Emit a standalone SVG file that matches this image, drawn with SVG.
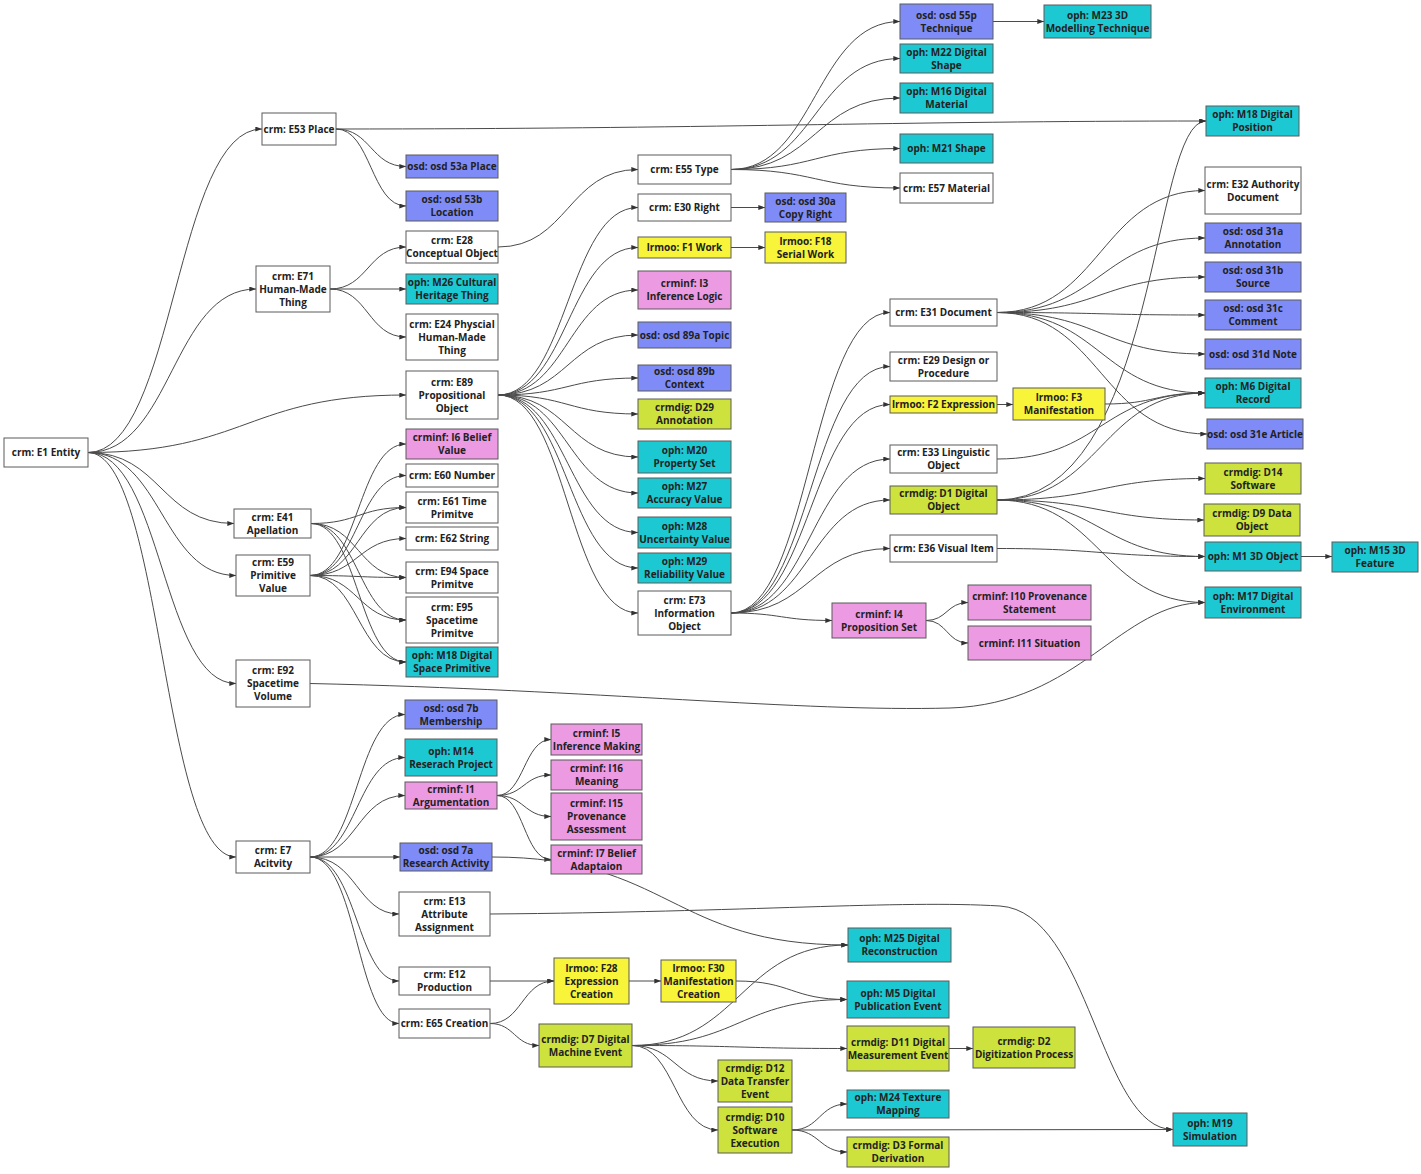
<svg xmlns="http://www.w3.org/2000/svg" width="1421" height="1174" viewBox="0 0 1421 1174">
<defs>
<marker id="a" viewBox="0 0 8 6" refX="8" refY="3" markerWidth="7" markerHeight="5" markerUnits="userSpaceOnUse" orient="auto"><path d="M0,0 L8,3 L0,6 z" fill="#333"/></marker>
<style>
rect{stroke:#5a5a5a;stroke-width:1}
.w{fill:#ffffff}.b{fill:#7f8cf7}.c{fill:#1cc9d3}.y{fill:#f7f43a}.p{fill:#ec9ae2}.g{fill:#cde23c}
text{font-family:"Open Sans","Noto Sans","DejaVu Sans",sans-serif;font-size:10px;font-weight:700;fill:#222;text-anchor:middle}
#edges path{fill:none;stroke:#4a4a4a;stroke-width:1;marker-end:url(#a)}
</style>
</defs>
<rect x="0" y="0" width="1421" height="1174" style="fill:#fff;stroke:none"/>
<g id="edges">
<path d="M88,452.5 C175,452.5 175,129 262,129"/>
<path d="M88,452.5 C172,452.5 172,289 256,289"/>
<path d="M88,452.5 C247,452.5 247,395 406,395"/>
<path d="M88,452.5 C161,452.5 161,523.5 234,523.5"/>
<path d="M88,452.5 C162,452.5 162,575.5 236,575.5"/>
<path d="M88,452.5 C162,452.5 162,683.5 236,683.5"/>
<path d="M88,452.5 C162,452.5 162,857 236,857"/>
<path d="M336,129 C371,129 371,166.5 406,166.5"/>
<path d="M336,129 C371,129 371,206 406,206"/>
<path d="M336,129 C700,129 900,121 1206,121"/>
<path d="M330,289 C368,289 368,247 406,247"/>
<path d="M330,289 L406,289"/>
<path d="M330,289 C368,289 368,337 406,337"/>
<path d="M498,247 C568,247 568,169.5 638,169.5"/>
<path d="M731,169.5 C815.5,169.5 815.5,21.5 900,21.5"/>
<path d="M731,169.5 C815.5,169.5 815.5,58.5 900,58.5"/>
<path d="M731,169.5 C815.5,169.5 815.5,98 900,98"/>
<path d="M731,169.5 C815.5,169.5 815.5,148.5 900,148.5"/>
<path d="M731,169.5 C815.5,169.5 815.5,188 900,188"/>
<path d="M993,21.5 L1044,21.5"/>
<path d="M498,395 C568,395 568,207.5 638,207.5"/>
<path d="M498,395 C568,395 568,247.5 638,247.5"/>
<path d="M498,395 C568,395 568,290 638,290"/>
<path d="M498,395 C568,395 568,335 638,335"/>
<path d="M498,395 C568,395 568,378 638,378"/>
<path d="M498,395 C568,395 568,414 638,414"/>
<path d="M498,395 C568,395 568,457 638,457"/>
<path d="M498,395 C568,395 568,493 638,493"/>
<path d="M498,395 C568,395 568,532.5 638,532.5"/>
<path d="M498,395 C568,395 568,568 638,568"/>
<path d="M498,395 C568,395 568,613 638,613"/>
<path d="M731,207.5 L765,207.5"/>
<path d="M731,247.5 L765,247.5"/>
<path d="M311,523.5 C358.5,523.5 358.5,507.5 406,507.5"/>
<path d="M311,523.5 C358.5,523.5 358.5,577.5 406,577.5"/>
<path d="M311,523.5 C358.5,523.5 358.5,620 406,620"/>
<path d="M311,523.5 C358.5,523.5 358.5,662 406,662"/>
<path d="M310,575.5 C358,575.5 358,444 406,444"/>
<path d="M310,575.5 C358,575.5 358,475.5 406,475.5"/>
<path d="M310,575.5 C358,575.5 358,507.5 406,507.5"/>
<path d="M310,575.5 C358,575.5 358,538.5 406,538.5"/>
<path d="M310,575.5 C358,575.5 358,577.5 406,577.5"/>
<path d="M310,575.5 C358,575.5 358,620 406,620"/>
<path d="M310,575.5 C358,575.5 358,662 406,662"/>
<path d="M310,683.5 C600,690 800,712 950,708 C1080,704 1120,602.5 1205,602.5"/>
<path d="M310,857 C357,857 357,714.5 405,714.5"/>
<path d="M310,857 C357,857 357,757.5 405,757.5"/>
<path d="M310,857 C357,857 357,795.5 405,795.5"/>
<path d="M310,857 L400,857"/>
<path d="M310,857 C357,857 357,914 399,914"/>
<path d="M310,857 C357,857 357,981 399,981"/>
<path d="M310,857 C357,857 357,1023.5 399,1023.5"/>
<path d="M497,795.5 C524,795.5 524,739.5 551,739.5"/>
<path d="M497,795.5 C524,795.5 524,775 551,775"/>
<path d="M497,795.5 C524,795.5 524,816.5 551,816.5"/>
<path d="M497,795.5 C524,795.5 524,859.5 551,859.5"/>
<path d="M492,857 C670,857 670,945 848,945"/>
<path d="M490,914 C750,912 900,900 1000,906 C1090,912 1100,1129.5 1173,1129.5"/>
<path d="M490,981 L554,981"/>
<path d="M490,1023.5 C522,1023.5 522,981 554,981"/>
<path d="M490,1023.5 C514.5,1023.5 514.5,1045.5 539,1045.5"/>
<path d="M629,981 L661,981"/>
<path d="M736,981 C791.5,981 791.5,999.5 847,999.5"/>
<path d="M632,1045.5 C740,1045.5 740,945 848,945"/>
<path d="M632,1045.5 C740,1045.5 740,999.5 847,999.5"/>
<path d="M632,1045.5 C740,1045.5 740,1048.5 847,1048.5"/>
<path d="M632,1045.5 C675,1045.5 675,1081 718,1081"/>
<path d="M632,1045.5 C675,1045.5 675,1130 718,1130"/>
<path d="M949,1048.5 L973,1048.5"/>
<path d="M792,1130 C819.5,1130 819.5,1104 847,1104"/>
<path d="M792,1130 L1173,1129.5"/>
<path d="M792,1130 C819.5,1130 819.5,1152 847,1152"/>
<path d="M731,613 C810.5,613 810.5,312.5 890,312.5"/>
<path d="M731,613 C810.5,613 810.5,366.5 890,366.5"/>
<path d="M731,613 C810.5,613 810.5,404.5 890,404.5"/>
<path d="M731,613 C810.5,613 810.5,459 890,459"/>
<path d="M731,613 C810.5,613 810.5,500 890,500"/>
<path d="M731,613 C810.5,613 810.5,548.5 890,548.5"/>
<path d="M731,613 C781.5,613 781.5,620.5 832,620.5"/>
<path d="M926,620.5 C947,620.5 947,602.5 968,602.5"/>
<path d="M926,620.5 C947,620.5 947,643 968,643"/>
<path d="M997,404.5 L1013,404.5"/>
<path d="M1105,404 C1155,404 1155,393 1205,393"/>
<path d="M997,312.5 C1101,312.5 1101,190.5 1205,190.5"/>
<path d="M997,312.5 C1101,312.5 1101,238 1205,238"/>
<path d="M997,312.5 C1101,312.5 1101,277 1205,277"/>
<path d="M997,312.5 C1101,312.5 1101,315 1205,315"/>
<path d="M997,312.5 C1101,312.5 1101,354 1205,354"/>
<path d="M997,312.5 C1101,312.5 1101,393 1205,393"/>
<path d="M997,312.5 C1101,312.5 1101,434 1207,434"/>
<path d="M997,459 C1101,459 1101,393 1205,393"/>
<path d="M997,500 C1160,500 1150,121 1206,121"/>
<path d="M997,500 C1101,500 1101,393 1205,393"/>
<path d="M997,500 C1101,500 1101,478.5 1205,478.5"/>
<path d="M997,500 C1101,500 1101,520 1204,520"/>
<path d="M997,500 C1101,500 1101,556.5 1205,556.5"/>
<path d="M997,500 C1101,500 1101,602.5 1205,602.5"/>
<path d="M997,548.5 C1101,548.5 1101,556.5 1205,556.5"/>
<path d="M1301,556.5 L1332,556.5"/>
</g>
<g id="e1"><rect class="w" x="4" y="438" width="84" height="29"/><text x="46" y="456">crm: E1 Entity</text></g>
<g id="e53"><rect class="w" x="262" y="113" width="74" height="32"/><text x="299" y="132.5">crm: E53 Place</text></g>
<g id="o53a"><rect class="b" x="406" y="155" width="92" height="23"/><text x="452" y="170">osd: osd 53a Place</text></g>
<g id="o53b"><rect class="b" x="406" y="191" width="92" height="30"/><text><tspan x="452" y="203">osd: osd 53b</tspan><tspan x="452" y="216">Location</tspan></text></g>
<g id="e28"><rect class="w" x="406" y="231" width="92" height="32"/><text><tspan x="452" y="244">crm: E28</tspan><tspan x="452" y="257">Conceptual Object</tspan></text></g>
<g id="e71"><rect class="w" x="256" y="266" width="74" height="46"/><text><tspan x="293" y="279.5">crm: E71</tspan><tspan x="293" y="292.5">Human-Made</tspan><tspan x="293" y="305.5">Thing</tspan></text></g>
<g id="m26"><rect class="c" x="406" y="274" width="92" height="30"/><text><tspan x="452" y="286">oph: M26 Cultural</tspan><tspan x="452" y="299">Heritage Thing</tspan></text></g>
<g id="e24"><rect class="w" x="406" y="314" width="92" height="46"/><text><tspan x="452" y="327.5">crm: E24 Physcial</tspan><tspan x="452" y="340.5">Human-Made</tspan><tspan x="452" y="353.5">Thing</tspan></text></g>
<g id="e89"><rect class="w" x="406" y="371" width="92" height="48"/><text><tspan x="452" y="385.5">crm: E89</tspan><tspan x="452" y="398.5">Propositional</tspan><tspan x="452" y="411.5">Object</tspan></text></g>
<g id="i6"><rect class="p" x="406" y="429" width="92" height="30"/><text><tspan x="452" y="441">crminf: I6 Belief</tspan><tspan x="452" y="454">Value</tspan></text></g>
<g id="e60"><rect class="w" x="406" y="464" width="92" height="23"/><text x="452" y="479">crm: E60 Number</text></g>
<g id="e61"><rect class="w" x="406" y="492" width="92" height="31"/><text><tspan x="452" y="504.5">crm: E61 Time</tspan><tspan x="452" y="517.5">Primitve</tspan></text></g>
<g id="e62"><rect class="w" x="406" y="527" width="92" height="23"/><text x="452" y="542">crm: E62 String</text></g>
<g id="e94"><rect class="w" x="406" y="562" width="92" height="31"/><text><tspan x="452" y="574.5">crm: E94 Space</tspan><tspan x="452" y="587.5">Primitve</tspan></text></g>
<g id="e95"><rect class="w" x="406" y="597" width="92" height="46"/><text><tspan x="452" y="610.5">crm: E95</tspan><tspan x="452" y="623.5">Spacetime</tspan><tspan x="452" y="636.5">Primitve</tspan></text></g>
<g id="m18s"><rect class="c" x="406" y="647" width="92" height="30"/><text><tspan x="452" y="659">oph: M18 Digital</tspan><tspan x="452" y="672">Space Primitive</tspan></text></g>
<g id="e41"><rect class="w" x="234" y="509" width="77" height="29"/><text><tspan x="272.5" y="520.5">crm: E41</tspan><tspan x="272.5" y="533.5">Apellation</tspan></text></g>
<g id="e59"><rect class="w" x="236" y="555" width="74" height="41"/><text><tspan x="273" y="566">crm: E59</tspan><tspan x="273" y="579">Primitive</tspan><tspan x="273" y="592">Value</tspan></text></g>
<g id="e92"><rect class="w" x="236" y="660" width="74" height="47"/><text><tspan x="273" y="674">crm: E92</tspan><tspan x="273" y="687">Spacetime</tspan><tspan x="273" y="700">Volume</tspan></text></g>
<g id="o7b"><rect class="b" x="405" y="700" width="92" height="29"/><text><tspan x="451" y="711.5">osd: osd 7b</tspan><tspan x="451" y="724.5">Membership</tspan></text></g>
<g id="m14"><rect class="c" x="405" y="739" width="92" height="37"/><text><tspan x="451" y="754.5">oph: M14</tspan><tspan x="451" y="767.5">Reserach Project</tspan></text></g>
<g id="i1"><rect class="p" x="405" y="782" width="92" height="27"/><text><tspan x="451" y="792.5">crminf: I1</tspan><tspan x="451" y="805.5">Argumentation</tspan></text></g>
<g id="o7a"><rect class="b" x="400" y="843" width="92" height="28"/><text><tspan x="446" y="854">osd: osd 7a</tspan><tspan x="446" y="867">Research Activity</tspan></text></g>
<g id="e7"><rect class="w" x="236" y="841" width="74" height="32"/><text><tspan x="273" y="854">crm: E7</tspan><tspan x="273" y="867">Acitvity</tspan></text></g>
<g id="e13"><rect class="w" x="399" y="892" width="91" height="44"/><text><tspan x="444.5" y="904.5">crm: E13</tspan><tspan x="444.5" y="917.5">Attribute</tspan><tspan x="444.5" y="930.5">Assignment</tspan></text></g>
<g id="e12"><rect class="w" x="399" y="967" width="91" height="28"/><text><tspan x="444.5" y="978">crm: E12</tspan><tspan x="444.5" y="991">Production</tspan></text></g>
<g id="e65"><rect class="w" x="399" y="1009" width="91" height="29"/><text x="444.5" y="1027">crm: E65 Creation</text></g>
<g id="i5"><rect class="p" x="551" y="724" width="91" height="31"/><text><tspan x="596.5" y="736.5">crminf: I5</tspan><tspan x="596.5" y="749.5">Inference Making</tspan></text></g>
<g id="i16"><rect class="p" x="551" y="760" width="91" height="30"/><text><tspan x="596.5" y="772">crminf: I16</tspan><tspan x="596.5" y="785">Meaning</tspan></text></g>
<g id="i15"><rect class="p" x="551" y="793" width="91" height="47"/><text><tspan x="596.5" y="807">crminf: I15</tspan><tspan x="596.5" y="820">Provenance</tspan><tspan x="596.5" y="833">Assessment</tspan></text></g>
<g id="i7"><rect class="p" x="551" y="845" width="91" height="29"/><text><tspan x="596.5" y="856.5">crminf: I7 Belief</tspan><tspan x="596.5" y="869.5">Adaptaion</tspan></text></g>
<g id="f28"><rect class="y" x="554" y="958" width="75" height="46"/><text><tspan x="591.5" y="971.5">lrmoo: F28</tspan><tspan x="591.5" y="984.5">Expression</tspan><tspan x="591.5" y="997.5">Creation</tspan></text></g>
<g id="f30"><rect class="y" x="661" y="960" width="75" height="42"/><text><tspan x="698.5" y="971.5">lrmoo: F30</tspan><tspan x="698.5" y="984.5">Manifestation</tspan><tspan x="698.5" y="997.5">Creation</tspan></text></g>
<g id="d7"><rect class="g" x="539" y="1024" width="93" height="43"/><text><tspan x="585.5" y="1042.5">crmdig: D7 Digital</tspan><tspan x="585.5" y="1055.5">Machine Event</tspan></text></g>
<g id="m25"><rect class="c" x="848" y="928" width="103" height="34"/><text><tspan x="899.5" y="942">oph: M25 Digital</tspan><tspan x="899.5" y="955">Reconstruction</tspan></text></g>
<g id="m5"><rect class="c" x="847" y="981" width="102" height="37"/><text><tspan x="898" y="996.5">oph: M5 Digital</tspan><tspan x="898" y="1009.5">Publication Event</tspan></text></g>
<g id="d11"><rect class="g" x="847" y="1026" width="102" height="45"/><text><tspan x="898" y="1045.5">crmdig: D11 Digital</tspan><tspan x="898" y="1058.5">Measurement Event</tspan></text></g>
<g id="d2"><rect class="g" x="973" y="1027" width="102" height="41"/><text><tspan x="1024" y="1044.5">crmdig: D2</tspan><tspan x="1024" y="1057.5">Digitization Process</tspan></text></g>
<g id="d12"><rect class="g" x="718" y="1060" width="74" height="42"/><text><tspan x="755" y="1071.5">crmdig: D12</tspan><tspan x="755" y="1084.5">Data Transfer</tspan><tspan x="755" y="1097.5">Event</tspan></text></g>
<g id="m24"><rect class="c" x="847" y="1090" width="102" height="28"/><text><tspan x="898" y="1101">oph: M24 Texture</tspan><tspan x="898" y="1114">Mapping</tspan></text></g>
<g id="d10"><rect class="g" x="718" y="1107" width="74" height="46"/><text><tspan x="755" y="1120.5">crmdig: D10</tspan><tspan x="755" y="1133.5">Software</tspan><tspan x="755" y="1146.5">Execution</tspan></text></g>
<g id="d3"><rect class="g" x="847" y="1137" width="102" height="30"/><text><tspan x="898" y="1149">crmdig: D3 Formal</tspan><tspan x="898" y="1162">Derivation</tspan></text></g>
<g id="m19"><rect class="c" x="1173" y="1113" width="74" height="33"/><text><tspan x="1210" y="1126.5">oph: M19</tspan><tspan x="1210" y="1139.5">Simulation</tspan></text></g>
<g id="e55"><rect class="w" x="638" y="155" width="93" height="29"/><text x="684.5" y="173">crm: E55 Type</text></g>
<g id="e30"><rect class="w" x="638" y="194" width="93" height="27"/><text x="684.5" y="211">crm: E30 Right</text></g>
<g id="o30a"><rect class="b" x="765" y="193" width="81" height="29"/><text><tspan x="805.5" y="204.5">osd: osd 30a</tspan><tspan x="805.5" y="217.5">Copy Right</tspan></text></g>
<g id="f1"><rect class="y" x="638" y="237" width="93" height="21"/><text x="684.5" y="251">lrmoo: F1 Work</text></g>
<g id="f18"><rect class="y" x="765" y="232" width="81" height="31"/><text><tspan x="805.5" y="244.5">lrmoo: F18</tspan><tspan x="805.5" y="257.5">Serial Work</tspan></text></g>
<g id="i3"><rect class="p" x="638" y="271" width="93" height="38"/><text><tspan x="684.5" y="287">crminf: I3</tspan><tspan x="684.5" y="300">Inference Logic</tspan></text></g>
<g id="o89a"><rect class="b" x="638" y="322" width="93" height="26"/><text x="684.5" y="338.5">osd: osd 89a Topic</text></g>
<g id="o89b"><rect class="b" x="638" y="365" width="93" height="26"/><text><tspan x="684.5" y="375">osd: osd 89b</tspan><tspan x="684.5" y="388">Context</tspan></text></g>
<g id="d29"><rect class="g" x="638" y="399" width="93" height="30"/><text><tspan x="684.5" y="411">crmdig: D29</tspan><tspan x="684.5" y="424">Annotation</tspan></text></g>
<g id="m20"><rect class="c" x="638" y="441" width="93" height="32"/><text><tspan x="684.5" y="454">oph: M20</tspan><tspan x="684.5" y="467">Property Set</tspan></text></g>
<g id="m27"><rect class="c" x="638" y="478" width="93" height="30"/><text><tspan x="684.5" y="490">oph: M27</tspan><tspan x="684.5" y="503">Accuracy Value</tspan></text></g>
<g id="m28"><rect class="c" x="638" y="517" width="93" height="31"/><text><tspan x="684.5" y="529.5">oph: M28</tspan><tspan x="684.5" y="542.5">Uncertainty Value</tspan></text></g>
<g id="m29"><rect class="c" x="638" y="553" width="93" height="30"/><text><tspan x="684.5" y="565">oph: M29</tspan><tspan x="684.5" y="578">Reliability Value</tspan></text></g>
<g id="e73"><rect class="w" x="638" y="591" width="93" height="44"/><text><tspan x="684.5" y="603.5">crm: E73</tspan><tspan x="684.5" y="616.5">Information</tspan><tspan x="684.5" y="629.5">Object</tspan></text></g>
<g id="o55p"><rect class="b" x="900" y="4" width="93" height="35"/><text><tspan x="946.5" y="18.5">osd: osd 55p</tspan><tspan x="946.5" y="31.5">Technique</tspan></text></g>
<g id="m23"><rect class="c" x="1044" y="5" width="107" height="33"/><text><tspan x="1097.5" y="18.5">oph: M23 3D</tspan><tspan x="1097.5" y="31.5">Modelling Technique</tspan></text></g>
<g id="m22"><rect class="c" x="900" y="44" width="93" height="29"/><text><tspan x="946.5" y="55.5">oph: M22 Digital</tspan><tspan x="946.5" y="68.5">Shape</tspan></text></g>
<g id="m16"><rect class="c" x="900" y="83" width="93" height="30"/><text><tspan x="946.5" y="95">oph: M16 Digital</tspan><tspan x="946.5" y="108">Material</tspan></text></g>
<g id="m18p"><rect class="c" x="1206" y="106" width="93" height="30"/><text><tspan x="1252.5" y="118">oph: M18 Digital</tspan><tspan x="1252.5" y="131">Position</tspan></text></g>
<g id="m21"><rect class="c" x="900" y="134" width="93" height="29"/><text x="946.5" y="152">oph: M21 Shape</text></g>
<g id="e57"><rect class="w" x="900" y="173" width="93" height="30"/><text x="946.5" y="191.5">crm: E57 Material</text></g>
<g id="e32"><rect class="w" x="1205" y="167" width="96" height="47"/><text><tspan x="1253" y="187.5">crm: E32 Authority</tspan><tspan x="1253" y="200.5">Document</tspan></text></g>
<g id="o31a"><rect class="b" x="1205" y="223" width="96" height="30"/><text><tspan x="1253" y="235">osd: osd 31a</tspan><tspan x="1253" y="248">Annotation</tspan></text></g>
<g id="o31b"><rect class="b" x="1205" y="262" width="96" height="30"/><text><tspan x="1253" y="274">osd: osd 31b</tspan><tspan x="1253" y="287">Source</tspan></text></g>
<g id="o31c"><rect class="b" x="1205" y="300" width="96" height="30"/><text><tspan x="1253" y="312">osd: osd 31c</tspan><tspan x="1253" y="325">Comment</tspan></text></g>
<g id="o31d"><rect class="b" x="1205" y="339" width="96" height="30"/><text x="1253" y="357.5">osd: osd 31d Note</text></g>
<g id="m6"><rect class="c" x="1205" y="378" width="96" height="30"/><text><tspan x="1253" y="390">oph: M6 Digital</tspan><tspan x="1253" y="403">Record</tspan></text></g>
<g id="o31e"><rect class="b" x="1207" y="419" width="96" height="30"/><text x="1255" y="437.5">osd: osd 31e Article</text></g>
<g id="e31"><rect class="w" x="890" y="299" width="107" height="27"/><text x="943.5" y="316">crm: E31 Document</text></g>
<g id="e29"><rect class="w" x="890" y="352" width="107" height="29"/><text><tspan x="943.5" y="363.5">crm: E29 Design or</tspan><tspan x="943.5" y="376.5">Procedure</tspan></text></g>
<g id="f2"><rect class="y" x="890" y="396" width="107" height="17"/><text x="943.5" y="408">lrmoo: F2 Expression</text></g>
<g id="f3"><rect class="y" x="1013" y="388" width="92" height="32"/><text><tspan x="1059" y="401">lrmoo: F3</tspan><tspan x="1059" y="414">Manifestation</tspan></text></g>
<g id="e33"><rect class="w" x="890" y="445" width="107" height="28"/><text><tspan x="943.5" y="456">crm: E33 Linguistic</tspan><tspan x="943.5" y="469">Object</tspan></text></g>
<g id="d1"><rect class="g" x="890" y="486" width="107" height="28"/><text><tspan x="943.5" y="497">crmdig: D1 Digital</tspan><tspan x="943.5" y="510">Object</tspan></text></g>
<g id="e36"><rect class="w" x="890" y="535" width="107" height="27"/><text x="943.5" y="552">crm: E36 Visual Item</text></g>
<g id="d14"><rect class="g" x="1205" y="463" width="96" height="31"/><text><tspan x="1253" y="475.5">crmdig: D14</tspan><tspan x="1253" y="488.5">Software</tspan></text></g>
<g id="d9"><rect class="g" x="1204" y="504" width="96" height="32"/><text><tspan x="1252" y="517">crmdig: D9 Data</tspan><tspan x="1252" y="530">Object</tspan></text></g>
<g id="m1"><rect class="c" x="1205" y="542" width="96" height="29"/><text x="1253" y="560">oph: M1 3D Object</text></g>
<g id="m15"><rect class="c" x="1332" y="542" width="86" height="30"/><text><tspan x="1375" y="554">oph: M15 3D</tspan><tspan x="1375" y="567">Feature</tspan></text></g>
<g id="m17"><rect class="c" x="1205" y="587" width="96" height="31"/><text><tspan x="1253" y="599.5">oph: M17 Digital</tspan><tspan x="1253" y="612.5">Environment</tspan></text></g>
<g id="i4"><rect class="p" x="832" y="603" width="94" height="35"/><text><tspan x="879" y="617.5">crminf: I4</tspan><tspan x="879" y="630.5">Proposition Set</tspan></text></g>
<g id="i10"><rect class="p" x="968" y="585" width="123" height="35"/><text><tspan x="1029.5" y="599.5">crminf: I10 Provenance</tspan><tspan x="1029.5" y="612.5">Statement</tspan></text></g>
<g id="i11"><rect class="p" x="968" y="626" width="123" height="34"/><text x="1029.5" y="646.5">crminf: I11 Situation</text></g>
</svg>
